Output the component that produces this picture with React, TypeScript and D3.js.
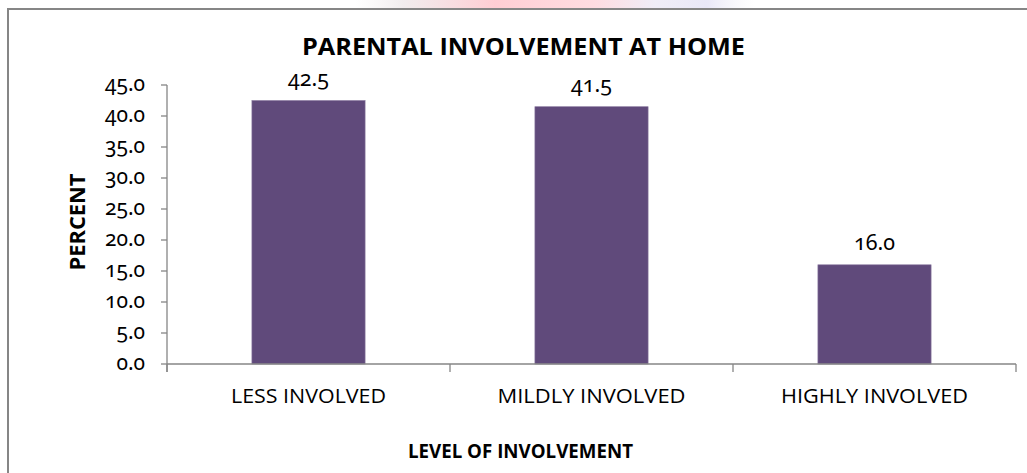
import React from "react";
import * as d3 from "d3";

const categories: string[] = ["LESS INVOLVED", "MILDLY INVOLVED", "HIGHLY INVOLVED"];
const percents: number[] = [42.5, 41.5, 16.0];
const yTicks: number[] = [0, 5, 10, 15, 20, 25, 30, 35, 40, 45];
const chartTitle = "PARENTAL INVOLVEMENT AT HOME";
const xTitle = "LEVEL OF INVOLVEMENT";
const yTitle = "PERCENT";

const W = 1027;
const H = 473;
const plotLeft = 167;
const plotRight = 1016;
const plotTop = 85;
const plotBottom = 364;

const BAR = "#604A7B";
const AXIS = "#868686";
const TXT = "#000";
const SANS = "'Open Sans', 'Noto Sans', sans-serif";
const NUMF = "'Noto Sans', 'Open Sans', sans-serif";

export default function App() {
  const y = d3.scaleLinear().domain([0, 45]).range([plotBottom, plotTop]);
  const xCat = d3.scaleBand<string>().domain(categories).range([plotLeft, plotRight]).padding(0);
  const xBar = d3
    .scaleBand<string>()
    .domain(categories)
    .range([plotLeft, plotRight])
    .paddingInner(0.6)
    .paddingOuter(0.3);

  const boundaries = [...categories.map((c) => xCat(c) as number), plotRight];
  const catLabelLen = [155, 188, 187];

  return (
    <svg
      width={W}
      height={H}
      viewBox={`0 0 ${W} ${H}`}
      style={{ position: "absolute", left: 0, top: 0, background: "#fff" }}
    >
      <defs>
        <linearGradient id="wm" x1="0" x2="1" y1="0" y2="0">
          <stop offset="0" stopColor="#f2eeee" stopOpacity="0" />
          <stop offset="0.12" stopColor="#eee8ea" stopOpacity="0.8" />
          <stop offset="0.35" stopColor="#ffc8cf" stopOpacity="0.9" />
          <stop offset="0.6" stopColor="#ffd4da" stopOpacity="0.8" />
          <stop offset="0.75" stopColor="#ece9f5" stopOpacity="0.8" />
          <stop offset="0.88" stopColor="#e4e2f6" stopOpacity="0.8" />
          <stop offset="1" stopColor="#f0f0f4" stopOpacity="0" />
        </linearGradient>
      </defs>
      {/* faint watermark band at the top */}
      <rect x={355} y={0} width={400} height={8} fill="url(#wm)" />

      {/* frame */}
      <line x1={8} y1={H + 2} x2={8} y2={9} stroke={AXIS} strokeWidth={2} />
      <line x1={7} y1={9} x2={W + 2} y2={9} stroke={AXIS} strokeWidth={2} />

      {/* title */}
      <text
        x={523.5}
        y={55}
        textAnchor="middle"
        fontFamily={SANS}
        fontWeight={700}
        fontSize={24}
        fill={TXT}
        textLength={443}
        lengthAdjust="spacingAndGlyphs"
      >
        {chartTitle}
      </text>

      {/* bars */}
      {categories.map((c, i) => (
        <rect
          key={c}
          x={xBar(c)}
          y={y(percents[i])}
          width={xBar.bandwidth()}
          height={plotBottom - y(percents[i])}
          fill={BAR}
          stroke="#8a7aa0"
          strokeWidth={0.6}
        />
      ))}

      {/* value labels */}
      {categories.map((c, i) => (
        <text
          key={c + "v"}
          x={(xBar(c) as number) + xBar.bandwidth() / 2}
          y={y(percents[i]) - 15}
          textAnchor="middle"
          fontFamily={NUMF}
          fontSize={21}
          fill={TXT}
          textLength={41}
          lengthAdjust="spacingAndGlyphs"
          style={{ fontVariantNumeric: "oldstyle-nums" }}
        >
          {percents[i].toFixed(1)}
        </text>
      ))}

      {/* y axis */}
      <line x1={plotLeft} y1={plotTop} x2={plotLeft} y2={plotBottom + 8} stroke={AXIS} strokeWidth={1.3} />
      {yTicks.map((t) => (
        <g key={t}>
          <line x1={plotLeft - 6} x2={plotLeft} y1={y(t)} y2={y(t)} stroke={AXIS} strokeWidth={1.3} />
          <text
            x={145}
            y={y(t)}
            dy="0.3em"
            textAnchor="end"
            fontFamily={NUMF}
            fontSize={21}
            fill={TXT}
            style={{ fontVariantNumeric: "oldstyle-nums" }}
          >
            {t.toFixed(1)}
          </text>
        </g>
      ))}

      {/* x axis */}
      <line x1={plotLeft} y1={plotBottom} x2={plotRight} y2={plotBottom} stroke={AXIS} strokeWidth={1.3} />
      {boundaries.map((b, i) => (
        <line key={"b" + i} x1={b} x2={b} y1={plotBottom} y2={plotBottom + 8} stroke={AXIS} strokeWidth={1.3} />
      ))}
      {categories.map((c, i) => (
        <text
          key={c + "l"}
          x={(xCat(c) as number) + xCat.bandwidth() / 2}
          y={403}
          textAnchor="middle"
          fontFamily={SANS}
          fontSize={20}
          fill={TXT}
          textLength={catLabelLen[i]}
          lengthAdjust="spacingAndGlyphs"
        >
          {c}
        </text>
      ))}

      {/* axis titles */}
      <text
        x={520.5}
        y={458}
        textAnchor="middle"
        fontFamily={SANS}
        fontWeight={700}
        fontSize={19}
        fill={TXT}
        textLength={225}
        lengthAdjust="spacingAndGlyphs"
      >
        {xTitle}
      </text>
      <text
        transform="translate(85,222) rotate(-90)"
        textAnchor="middle"
        fontFamily={SANS}
        fontWeight={700}
        fontSize={22}
        fill={TXT}
        textLength={97}
        lengthAdjust="spacingAndGlyphs"
      >
        {yTitle}
      </text>
    </svg>
  );
}
